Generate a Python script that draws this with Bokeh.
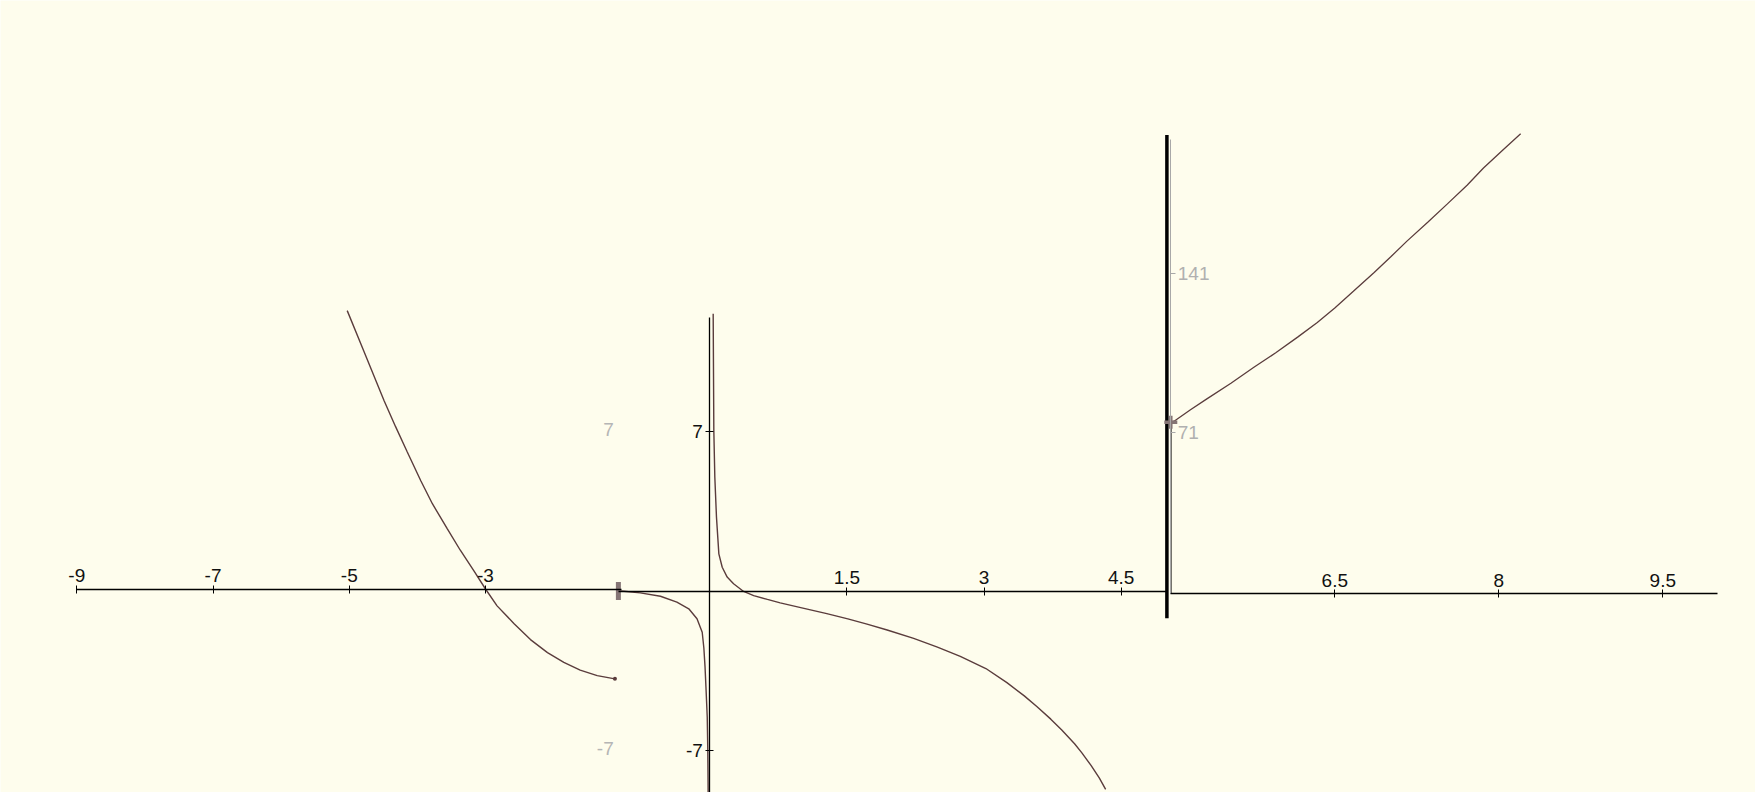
from bokeh.plotting import figure
from bokeh.models import Range1d, LinearAxis, FixedTicker
from bokeh.embed import file_html
from bokeh.resources import INLINE

# ---------------- data ----------------
# piece 1: x < -1
left_x = [-5.03, -4.79, -4.64, -4.49, -4.32, -4.15, -3.95, -3.78, -3.56, -3.37, -3.17, -3.0,
          -2.83, -2.58, -2.34, -2.09, -1.85, -1.61, -1.36, -1.10]
left_y = [12.21, 10.46, 9.36, 8.27, 7.12, 6.02, 4.75, 3.74, 2.64, 1.70, 0.79, 0.0,
          -0.74, -1.52, -2.22, -2.79, -3.22, -3.56, -3.80, -3.94]

# piece 2: -1 <= x < 5 (two branches around x = 0)
mid_neg_x = [-0.99, -0.94, -0.76, -0.54, -0.36, -0.23, -0.14, -0.083, -0.065, -0.052, -0.042,
             -0.028, -0.022, -0.018]
mid_neg_y = [0.0, -0.01, -0.08, -0.23, -0.49, -0.78, -1.22, -1.81, -2.50, -3.34, -4.22,
             -5.54, -7.00, -8.84]
mid_pos_x = [0.037, 0.044, 0.055, 0.073, 0.099, 0.136, 0.19, 0.26, 0.37, 0.48, 0.63, 0.77,
             1.03, 1.28, 1.51, 1.72, 1.94, 2.23, 2.49, 2.74, 3.02, 3.25, 3.44, 3.58, 3.73,
             3.85, 3.99, 4.07, 4.17, 4.26, 4.33]
mid_pos_y = [12.16, 7.04, 4.99, 3.24, 1.63, 1.04, 0.61, 0.32, -0.02, -0.20, -0.37, -0.52,
             -0.76, -0.99, -1.22, -1.45, -1.71, -2.08, -2.46, -2.87, -3.40, -4.02, -4.60,
             -5.08, -5.62, -6.10, -6.70, -7.10, -7.65, -8.20, -8.70]

# piece 3: x >= 5
right_x = [5.0, 5.03, 5.18, 5.33, 5.55, 5.76, 5.96, 6.16, 6.34, 6.50, 6.67, 6.86, 7.01, 7.16,
           7.35, 7.53, 7.71, 7.86, 8.03, 8.20]
right_y = [75.6, 76.05, 81.1, 85.9, 92.8, 99.8, 106.2, 113.1, 119.5, 125.9, 133.3, 141.6,
           148.4, 155.4, 163.7, 171.8, 180.0, 187.6, 195.2, 202.7]

# end points / markers
left_end = ([-1.10], [-3.94])
mid_start = ([-1.0], [0.0])
right_start = ([5.0], [75.6])
break_x = [5.0]
break_y = (-1.2, 20.0)

# ticks
left_ticks = [-9, -7, -5, -3]
left_tick_labels = ["-9", "-7", "-5", "-3"]
mid_ticks = [1.5, 3, 4.5]
mid_tick_labels = ["1.5", "3", "4.5"]
right_ticks = [6.5, 8, 9.5]
right_tick_labels = ["6.5", "8", "9.5"]
mid_y_ticks = [-7, 7]
mid_y_tick_labels = ["-7", "7"]
right_y_ticks = [71, 141]
right_y_tick_labels = ["71", "141"]

# ---------------- layout ----------------
W, H = 1755, 792
BG = "#FEFDED"
CURVE = "#5a3c3c"
FONT = "Liberation Sans"
FS = "19px"


def xr(v0, p0, k):
    s = v0 - p0 / k
    return Range1d(s, s + W / k)


def yr(p0, k):
    return Range1d(-(H - p0) / k, p0 / k)


p = figure(width=W, height=H, x_range=xr(0, 709.3, 91.42), y_range=yr(590.5, 22.8),
           x_axis_type=None, y_axis_type=None, toolbar_location=None,
           output_backend="svg", min_border=0, outline_line_color=None,
           background_fill_color=BG, border_fill_color=BG)
p.extra_x_ranges = {"left": xr(-3, 485.0, 68.12), "right": xr(5, 1170.3, 109.33)}
p.extra_y_ranges = {"left": yr(588.5, 22.8), "right": yr(593.3, 2.2695)}


def style(ax, color="#000000", label_color="#111111", tin=4, tout=4, standoff=3, line_width=1.3):
    ax.axis_line_color = color
    ax.axis_line_width = line_width
    ax.major_tick_line_color = color
    ax.major_tick_in = tin
    ax.major_tick_out = tout
    ax.minor_tick_line_color = None
    ax.major_label_text_font = FONT
    ax.major_label_text_font_size = FS
    ax.major_label_text_color = label_color
    ax.major_label_standoff = standoff


# left x axis
ax = LinearAxis(x_range_name="left", y_range_name="left", ticker=FixedTicker(ticks=left_ticks),
                fixed_location=0, bounds=(-9, -1),
                major_label_overrides=dict(zip(left_ticks, left_tick_labels)))
style(ax)
p.add_layout(ax, "above")

# middle x axis
ax = LinearAxis(ticker=FixedTicker(ticks=mid_ticks), fixed_location=0, bounds=(-1, 5),
                major_label_overrides=dict(zip(mid_ticks, mid_tick_labels)))
style(ax)
p.add_layout(ax, "above")

# right x axis
ax = LinearAxis(x_range_name="right", y_range_name="right", ticker=FixedTicker(ticks=right_ticks),
                fixed_location=0, bounds=(5, 10),
                major_label_overrides=dict(zip(right_ticks, right_tick_labels)))
style(ax)
p.add_layout(ax, "above")

# middle y axis
ax = LinearAxis(ticker=FixedTicker(ticks=mid_y_ticks), fixed_location=0, bounds=(-9, 12),
                major_label_overrides=dict(zip(mid_y_ticks, mid_y_tick_labels)))
style(ax, standoff=3)
p.add_layout(ax, "left")

# gray labels of the left piece
ax = LinearAxis(x_range_name="left", y_range_name="left", ticker=FixedTicker(ticks=mid_y_ticks),
                fixed_location=-1,
                major_label_overrides=dict(zip(mid_y_ticks, mid_y_tick_labels)))
style(ax, color=None, label_color="#b5b5b5", tin=0, tout=0, standoff=8)
p.add_layout(ax, "left")

# right y axis (gray)
ax = LinearAxis(x_range_name="right", y_range_name="right", ticker=FixedTicker(ticks=right_y_ticks),
                fixed_location=5, bounds=(0, 200),
                major_label_overrides=dict(zip(right_y_ticks, right_y_tick_labels)))
style(ax, color="#a8a8a8", label_color="#b0b0b0", tin=0, tout=5, standoff=2, line_width=1)
p.add_layout(ax, "right")

# curves
p.line(left_x, left_y, x_range_name="left", y_range_name="left", line_color=CURVE, line_width=1.4)
p.line(mid_neg_x, mid_neg_y, line_color=CURVE, line_width=1.4)
p.line(mid_pos_x, mid_pos_y, line_color=CURVE, line_width=1.4)
p.line(right_x, right_y, x_range_name="right", y_range_name="right", line_color=CURVE, line_width=1.3)

# connecting vertical from axis to the start of piece 3
p.segment(x0=right_start[0], y0=[0], x1=right_start[0], y1=right_start[1],
          x_range_name="right", y_range_name="right", line_color="#000000", line_width=1.5)

# thick break line at x = 5
p.segment(x0=break_x, y0=[break_y[0]], x1=break_x, y1=[break_y[1]],
          line_color="#000000", line_width=3.5)

# markers
p.rect(x=mid_start[0], y=mid_start[1], width=5, height=18, width_units="screen",
       height_units="screen", fill_color="#857575", line_color=None)
p.scatter(x=right_start[0], y=right_start[1], x_range_name="right", y_range_name="right",
          marker="cross", size=13, line_width=3.5, line_color="#857575")
p.scatter(x=left_end[0], y=left_end[1], x_range_name="left", y_range_name="left",
          marker="circle", size=4, fill_color="#5a3c3c", line_color=None)

open("out.html", "w").write(file_html(p, INLINE))
